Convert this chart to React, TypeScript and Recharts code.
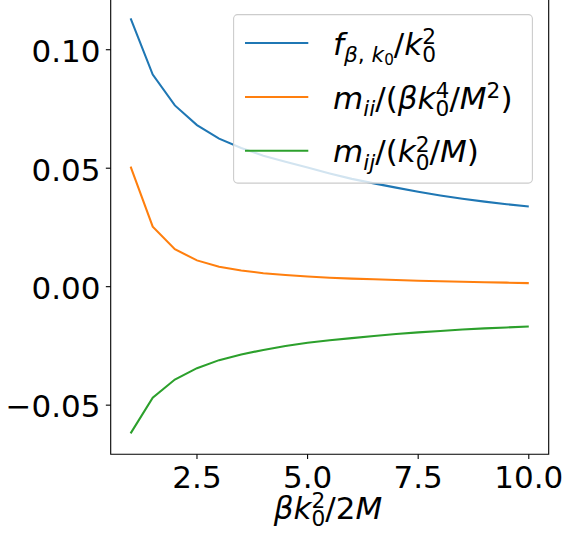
import React from 'react';
import { LineChart, Line, XAxis, YAxis, ReferenceArea, Legend } from 'recharts';

const xs = [1, 1.5, 2, 2.5, 3, 3.5, 4, 4.5, 5, 5.5, 6, 6.5, 7, 7.5, 8, 8.5, 9, 9.5, 10];
const fBeta = [0.1132, 0.0895, 0.0765, 0.0682, 0.0625, 0.0585, 0.0553, 0.0527, 0.0503, 0.0478, 0.0455, 0.0436, 0.0418, 0.0401, 0.0385, 0.0371, 0.0359, 0.0348, 0.0338];
const mii = [0.0507, 0.0253, 0.0158, 0.0111, 0.0084, 0.0068, 0.0057, 0.0049, 0.0043, 0.0038, 0.0034, 0.0031, 0.0028, 0.0025, 0.0023, 0.0021, 0.0019, 0.0017, 0.0015];
const mij = [-0.0619, -0.0469, -0.0392, -0.0344, -0.0310, -0.0286, -0.0267, -0.0250, -0.0237, -0.0226, -0.0217, -0.0208, -0.0200, -0.0193, -0.0187, -0.0181, -0.0176, -0.0172, -0.0168];
const xTicks = [2.5, 5, 7.5, 10];
const yTicks = [-0.05, 0, 0.05, 0.1];

const data = xs.map((x, i) => ({ x, f: fBeta[i], mii: mii[i], mij: mij[i] }));

const XMIN = 0.55, XMAX = 10.45, YMIN = -0.0707, YMAX = 0.122;
const FONT = 'DejaVu Sans';
const F = 31;
const S = 21.7;
const SS = 15.2;
const DW = 13.8;
const UP = 10.7;
const DN = 7.3;
const C1 = '#1f77b4', C2 = '#ff7f0e', C3 = '#2ca02c';

const XTick = (p: any) => (
  <text x={p.x} y={p.y} dy={27.2} textAnchor="middle" fontFamily={FONT} fontSize={F} fill="#000">
    {Number(p.payload.value).toFixed(1)}
  </text>
);
const YTick = (p: any) => {
  const v = Number(p.payload.value);
  const s = (v < 0 ? '\u2212' : '') + Math.abs(v).toFixed(2);
  return (
    <text x={p.x} y={p.y} dy={12.3} textAnchor="end" fontFamily={FONT} fontSize={F} fill="#000">
      {s}
    </text>
  );
};

const XLabel = () => (
  <text x={328} y={528.5} textAnchor="middle" fontFamily={FONT} fontSize={F} fill="#000">
    <tspan fontStyle="italic">βk</tspan>
    <tspan fontSize={S} dy={-UP}>2</tspan>
    <tspan fontSize={S} dx={-DW} dy={UP + DN}>0</tspan>
    <tspan dy={-DN}>/2</tspan>
    <tspan fontStyle="italic">M</tspan>
  </text>
);

const LegendBox = () => {
  const lx1 = 12, lx2 = 75.3, tx = 100;
  const ys = [29, 83, 136.7];
  const b = 11.5;
  return (
    <svg width={301} height={172} style={{ display: 'block', overflow: 'visible' }}>
      <rect x={0.6} y={0.6} width={298.8} height={168.5} rx={4} ry={4} fill="#fff" fillOpacity={0.8} stroke="#cccccc" strokeWidth={1.1} />
      <line x1={lx1} x2={lx2} y1={ys[0]} y2={ys[0]} stroke={C1} strokeWidth={2.08} />
      <line x1={lx1} x2={lx2} y1={ys[1]} y2={ys[1]} stroke={C2} strokeWidth={2.08} />
      <line x1={lx1} x2={lx2} y1={ys[2]} y2={ys[2]} stroke={C3} strokeWidth={2.08} />
      <text x={tx} y={ys[0] + b} fontFamily={FONT} fontSize={F} fill="#000">
        <tspan fontStyle="italic">f</tspan>
        <tspan fontSize={S} fontStyle="italic" dy={DN}>β</tspan>
        <tspan fontSize={S}>, </tspan>
        <tspan fontSize={S} fontStyle="italic">k</tspan>
        <tspan fontSize={SS} dy={3.4}>0</tspan>
        <tspan dy={-(DN + 3.4)}>/</tspan>
        <tspan fontStyle="italic">k</tspan>
        <tspan fontSize={S} dy={-UP}>2</tspan>
        <tspan fontSize={S} dx={-DW} dy={UP + DN}>0</tspan>
      </text>
      <text x={tx} y={ys[1] + b} fontFamily={FONT} fontSize={F} fill="#000">
        <tspan fontStyle="italic">m</tspan>
        <tspan fontSize={S} fontStyle="italic" dy={DN}>ii</tspan>
        <tspan dy={-DN}>/(</tspan>
        <tspan fontStyle="italic">βk</tspan>
        <tspan fontSize={S} dy={-UP}>4</tspan>
        <tspan fontSize={S} dx={-DW} dy={UP + DN}>0</tspan>
        <tspan dy={-DN}>/</tspan>
        <tspan fontStyle="italic">M</tspan>
        <tspan fontSize={S} dy={-UP}>2</tspan>
        <tspan dy={UP}>)</tspan>
      </text>
      <text x={tx} y={ys[2] + b} fontFamily={FONT} fontSize={F} fill="#000">
        <tspan fontStyle="italic">m</tspan>
        <tspan fontSize={S} fontStyle="italic" dy={DN}>ij</tspan>
        <tspan dy={-DN}>/(</tspan>
        <tspan fontStyle="italic">k</tspan>
        <tspan fontSize={S} dy={-UP}>2</tspan>
        <tspan fontSize={S} dx={-DW} dy={UP + DN}>0</tspan>
        <tspan dy={-DN}>/</tspan>
        <tspan fontStyle="italic">M</tspan>
        <tspan>)</tspan>
      </text>
    </svg>
  );
};

export default function App() {
  return (
    <div style={{ position: 'absolute', left: 0, top: -10, width: 563, height: 555, background: '#fff' }}>
      <LineChart width={563} height={555} data={data} margin={{ top: 7.6, right: 14.3, bottom: 0, left: 0 }}>
        <XAxis
          dataKey="x"
          type="number"
          domain={[XMIN, XMAX]}
          ticks={xTicks}
          allowDataOverflow
          height={90.8}
          axisLine={false}
          tickSize={4.86}
          tickMargin={2}
          tickLine={{ stroke: '#000', strokeWidth: 1.1 }}
          tick={XTick}
          interval={0}
          label={XLabel}
        />
        <YAxis
          type="number"
          domain={[YMIN, YMAX]}
          ticks={yTicks}
          allowDataOverflow
          width={110.7}
          axisLine={false}
          tickSize={4.86}
          tickMargin={5.3}
          tickLine={{ stroke: '#000', strokeWidth: 1.1 }}
          tick={YTick}
          interval={0}
        />
        <ReferenceArea x1={XMIN} x2={XMAX} y1={YMIN} y2={YMAX} fill="none" fillOpacity={0} stroke="#000" strokeWidth={1.1} ifOverflow="visible" />
        <Line type="linear" dataKey="f" stroke={C1} strokeWidth={2.08} dot={false} isAnimationActive={false} />
        <Line type="linear" dataKey="mii" stroke={C2} strokeWidth={2.08} dot={false} isAnimationActive={false} />
        <Line type="linear" dataKey="mij" stroke={C3} strokeWidth={2.08} dot={false} isAnimationActive={false} />
        <Legend
          layout="vertical"
          align="center"
          verticalAlign="middle"
          content={LegendBox}
          wrapperStyle={{ position: 'absolute', left: 233, top: 24, width: 301, height: 172, margin: 0, padding: 0 }}
        />
      </LineChart>
    </div>
  );
}
